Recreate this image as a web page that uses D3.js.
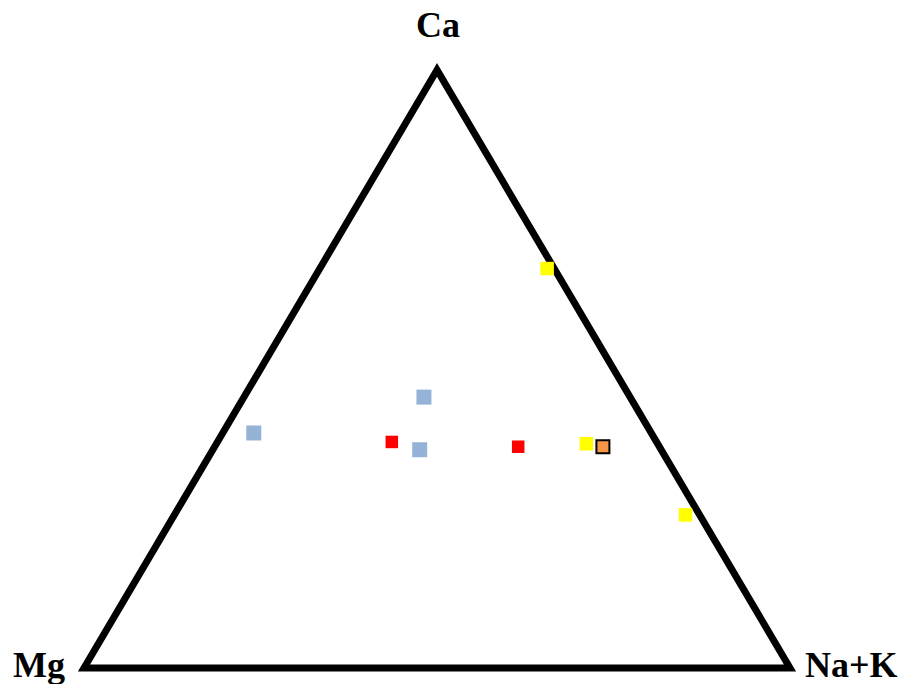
<!DOCTYPE html>
<html>
<head>
<meta charset="utf-8">
<script src="https://cdn.jsdelivr.net/npm/d3@7"></script>
<style>
  html, body { margin: 0; padding: 0; background: #fff; overflow: hidden; }
  svg { display: block; }
</style>
</head>
<body>
<div id="chart"></div>
<script>
// Ternary diagram: Ca (top), Mg (bottom left), Na+K (bottom right), values in %
var axisLabels = ["Ca", "Mg", "Na+K"];

// sample groups, each point is [Ca, Mg, Na+K]
var bluePoints = [
  [39.3, 56.3, 4.4],
  [45.3, 29.2, 25.5],
  [36.5, 34.2, 29.3]
];
var redPoints = [
  [37.8, 37.5, 24.7],
  [37.0, 20.0, 43.0]
];
var yellowPoints = [
  [37.5, 10.1, 52.4],
  [66.8, 1.0, 32.2],
  [25.6, 2.0, 72.4]
];
var orangePoints = [
  [37.0, 8.0, 55.0]
];

var width = 909;
var height = 684;

var svg = d3.select("#chart")
  .append("svg")
  .attr("width", width)
  .attr("height", height);

// Ca maps to height, horizontal position from Na+K plus half of Ca
var yScale = d3.scaleLinear().domain([0, 100]).range([668, 70]);
var xScale = d3.scaleLinear().domain([0, 100]).range([84, 790]);

function px(d) { return xScale(d[2] + d[0] / 2); }
function py(d) { return yScale(d[0]); }

var corners = [[100, 0, 0], [0, 100, 0], [0, 0, 100]];

svg.append("path")
  .attr("d", d3.line().x(px).y(py)(corners) + "Z")
  .attr("fill", "none")
  .attr("stroke", "#000")
  .attr("stroke-width", 7)
  .attr("stroke-linejoin", "miter");

// corner labels
var labelPos = [
  { x: 438, y: 37, anchor: "middle" },
  { x: 13, y: 677, anchor: "start" },
  { x: 805, y: 677, anchor: "start" }
];
svg.selectAll("text.corner")
  .data(axisLabels)
  .enter()
  .append("text")
  .attr("class", "corner")
  .attr("x", (d, i) => labelPos[i].x)
  .attr("y", (d, i) => labelPos[i].y)
  .attr("text-anchor", (d, i) => labelPos[i].anchor)
  .attr("font-family", "'Liberation Serif', 'Times New Roman', serif")
  .attr("font-weight", "bold")
  .attr("font-size", 36)
  .text(d => d);

function drawSquares(data, size, fill, stroke) {
  svg.append("g")
    .selectAll("rect")
    .data(data)
    .enter()
    .append("rect")
    .attr("x", d => px(d) - size / 2)
    .attr("y", d => py(d) - size / 2)
    .attr("width", size)
    .attr("height", size)
    .attr("fill", fill)
    .attr("stroke", stroke || "none")
    .attr("stroke-width", stroke ? 2 : 0);
}

drawSquares(bluePoints, 15, "#95b3d7");
drawSquares(redPoints, 12.5, "#ff0000");
drawSquares(yellowPoints, 13.5, "#ffff00");
drawSquares(orangePoints, 13, "#f79646", "#000");
</script>
</body>
</html>
